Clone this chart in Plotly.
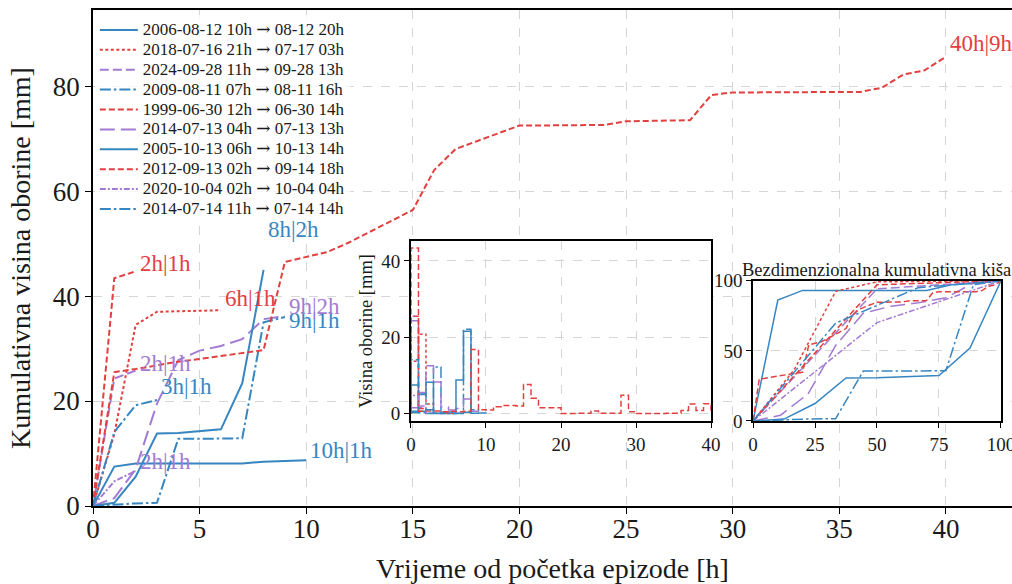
import numpy as np
import plotly.graph_objects as go

# Rain episodes: legend text, end-of-curve label and hourly rainfall [mm]
event_names = [
    "2006-08-12 10h → 08-12 20h",
    "2018-07-16 21h → 07-17 03h",
    "2024-09-28 11h → 09-28 13h",
    "2009-08-11 07h → 08-11 16h",
    "1999-06-30 12h → 06-30 14h",
    "2014-07-13 04h → 07-13 13h",
    "2005-10-13 06h → 10-13 14h",
    "2012-09-13 02h → 09-14 18h",
    "2020-10-04 02h → 10-04 04h",
    "2014-07-14 11h → 07-14 14h",
]
end_labels = ["10h|1h", "6h|1h", "2h|1h", "9h|1h", "2h|1h",
              "9h|2h", "8h|2h", "40h|9h", "2h|1h", "3h|1h"]

rain_2006_08_12 = [7.5, 0.6, 0.0, 0.0, 0.0, 0.0, 0.0, 0.35, 0.1, 0.15]
rain_2018_07_16 = [13.7, 20.8, 2.5, 0.1, 0.1, 0.1]
rain_2024_09_28 = [24.3, 1.5]
rain_2009_08_11 = [0.3, 0.2, 0.1, 12.2, 0.0, 0.0, 0.1, 22.1, 1.0]
rain_1999_06_30 = [43.4, 1.3]
rain_2014_07_13 = [1.5, 5.5, 12.5, 8.3, 1.8, 0.9, 1.3, 3.8, 0.6]
rain_2005_10_13 = [0.6, 5.0, 8.2, 0.1, 0.3, 0.4, 8.8, 21.6]
rain_2012_09_13 = [25.5, 0.6, 0.7, 0.7, 0.5, 0.6, 0.5, 0.6, 16.8, 1.0,
                   0.9, 1.8, 2.1, 2.1, 2.0, 7.6, 4.0, 1.5, 1.5, 1.5,
                   0.0, 0.0, 0.05, 0.05, 0.7, 0.05, 0.05, 0.1, 4.8, 0.5,
                   0.0, 0.0, 0.0, 0.0, 0.05, 0.05, 0.8, 2.5, 0.8, 2.6]
rain_2020_10_04 = [4.7, 2.0]
rain_2014_07_14 = [14.1, 5.1, 1.0]

hourly_rain = [rain_2006_08_12, rain_2018_07_16, rain_2024_09_28, rain_2009_08_11,
               rain_1999_06_30, rain_2014_07_13, rain_2005_10_13, rain_2012_09_13,
               rain_2020_10_04, rain_2014_07_14]

BLUE, RED, PURPLE = "#3786c2", "#e2403f", "#a37bd3"
colors = [BLUE, RED, PURPLE, BLUE, RED, PURPLE, BLUE, RED, PURPLE, BLUE]
dashes = ["solid", "3px,2.5px", "9px,4px", "11px,3px,2.5px,3px", "6px,3px",
          "15px,6px", "solid", "6px,3px", "6px,2px,2px,2px", "11px,3px,2.5px,3px"]
# vertical nudge (px) of each end label so that they do not collide
label_lift = [10, 12, 7, -3, 8, 10, 40, 13, 9, 13]

FONT = "Liberation Serif"
TXT = "#1a1a1a"
GRID = "#d6d6d6"


def legend_text(name):
    # larger legend text; the arrow taken from DejaVu Serif for a full-width glyph
    name = name.replace("→", '<span style="font-family:DejaVu Serif">→</span>')
    return f'<span style="font-size:17px">{name}</span>'


fig = go.Figure()

for name, lab, rain, col, dsh, lift in zip(event_names, end_labels, hourly_rain,
                                           colors, dashes, label_lift):
    rain = np.asarray(rain, dtype=float)
    cum = np.concatenate([[0.0], np.cumsum(rain)])
    hours = np.arange(len(cum))
    n = len(rain)

    # cumulative depth vs. time since episode start
    fig.add_trace(go.Scatter(x=hours, y=cum, mode="lines", name=legend_text(name),
                             line=dict(color=col, width=2, dash=dsh),
                             xaxis="x", yaxis="y"))
    fig.add_annotation(x=hours[-1], y=cum[-1], xref="x", yref="y", text=lab,
                       showarrow=False, xanchor="left", yanchor="middle",
                       xshift=2, yshift=lift,
                       font=dict(family=FONT, size=23, color=col))

    # hourly depth drawn as stairs
    sx = np.concatenate([[0.0], np.arange(n + 1)])
    sy = np.concatenate([[0.0], rain, [0.0]])
    fig.add_trace(go.Scatter(x=sx, y=sy, mode="lines", line_shape="hv",
                             line=dict(color=col, width=1.5, dash=dsh),
                             showlegend=False, xaxis="x2", yaxis="y2"))

    # dimensionless cumulative curve
    fig.add_trace(go.Scatter(x=hours / n * 100, y=cum / cum[-1] * 100, mode="lines",
                             line=dict(color=col, width=1.5, dash=dsh),
                             showlegend=False, xaxis="x3", yaxis="y3"))

fig.add_annotation(x=0.5, y=1.0, xref="x3 domain", yref="y3 domain",
                   text="Bezdimenzionalna kumulativna kiša", showarrow=False,
                   xanchor="center", yanchor="bottom", yshift=-1,
                   font=dict(family=FONT, size=18.5, color=TXT))

main_ax = dict(showline=True, linecolor="black", linewidth=1.6, automargin=False,
               ticks="outside", ticklen=6, tickwidth=1.4, tickcolor="black",
               showgrid=True, gridcolor=GRID, griddash="dash", gridwidth=1,
               zeroline=False, tickfont=dict(family=FONT, size=27, color=TXT))
inset_ax = dict(showline=True, linecolor="black", linewidth=1.6, mirror=True,
                automargin=False, ticklabeloverflow="allow",
                ticks="outside", ticklen=5, tickwidth=1.3, tickcolor="black",
                showgrid=True, gridcolor=GRID, griddash="dash", gridwidth=1,
                zeroline=False, tickfont=dict(family=FONT, size=19, color=TXT))

fig.update_layout(
    width=1012, height=584,
    margin=dict(l=93, r=0, t=10, b=78, autoexpand=False),
    paper_bgcolor="white", plot_bgcolor="white",
    font=dict(family=FONT, color=TXT),
    xaxis=dict(main_ax, domain=[0, 1], range=[0, 43.1], mirror=True,
               tickvals=[0, 5, 10, 15, 20, 25, 30, 35, 40], ticklabelstandoff=-8,
               title=dict(text="Vrijeme od početka epizode [h]",
                          font=dict(family=FONT, size=28, color=TXT), standoff=16)),
    yaxis=dict(main_ax, domain=[0, 1], range=[0, 94.5],
               tickvals=[0, 20, 40, 60, 80],
               title=dict(text="Kumulativna visina oborine [mm]",
                          font=dict(family=FONT, size=28, color=TXT), standoff=14)),
    xaxis2=dict(inset_ax, domain=[0.346, 0.6725], anchor="y2", range=[0, 40],
                tickvals=[0, 10, 20, 30, 40]),
    yaxis2=dict(inset_ax, domain=[0.1714, 0.534], anchor="x2", range=[-1.95, 45.2],
                tickvals=[0, 20, 40],
                title=dict(text="Visina oborine [mm]",
                           font=dict(family=FONT, size=18.5, color=TXT), standoff=4)),
    xaxis3=dict(inset_ax, domain=[0.7182, 0.988], anchor="y3", range=[0, 100],
                tickvals=[0, 25, 50, 75, 100]),
    yaxis3=dict(inset_ax, domain=[0.1714, 0.4542], anchor="x3", range=[0, 100],
                tickvals=[0, 50, 100]),
    legend=dict(x=0.002, y=0.99, xanchor="left", yanchor="top",
                bgcolor="rgba(255,255,255,0.8)", borderwidth=0, itemwidth=38,
                font=dict(family=FONT, size=13, color=TXT)),
    showlegend=True,
)

fig.write_html("out.html", config={"displayModeBar": False})
